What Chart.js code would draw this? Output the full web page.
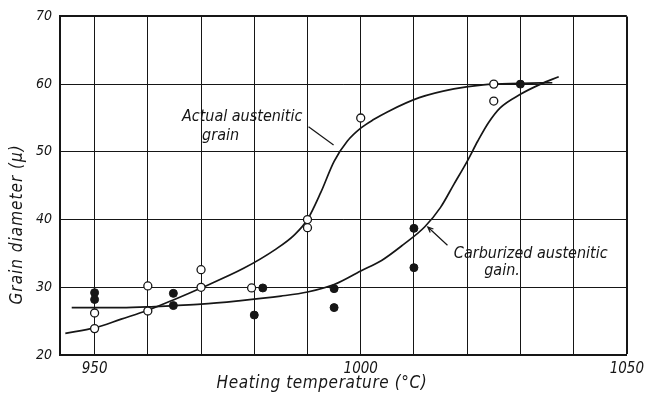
<!DOCTYPE html>
<html>
<head>
<meta charset="utf-8">
<script src="https://cdn.jsdelivr.net/npm/chart.js@4.4.0/dist/chart.umd.min.js"></script>
<style>
  html, body { margin: 0; padding: 0; background: #fff; }
</style>
</head>
<body>
<canvas id="grainChart" width="649" height="398"></canvas>
<script>
/*  data
-------------------------------------------------------*/
var xTicks = [950, 960, 970, 980, 990, 1000, 1010, 1020, 1030, 1040, 1050];
var yTicks = [20, 30, 40, 50, 60, 70];

// open circles : actual austenitic grain
var actualTemp = [950, 950, 960, 960, 970, 970, 979.5, 990, 990, 1000, 1025, 1025];
var actualDia  = [26.2, 23.9, 30.2, 26.5, 32.6, 30.0, 29.9, 40.0, 38.8, 55.0, 60.0, 57.5];

// filled circles : carburized austenitic grain
var carbTemp = [950, 950, 964.8, 964.8, 980, 981.6, 995, 995, 1010, 1010, 1030];
var carbDia  = [29.2, 28.2, 29.1, 27.3, 25.9, 29.9, 29.8, 27.0, 38.7, 32.9, 60.0];

// drawn curves
var actualCurveTemp = [944.5, 950, 955, 960, 965, 970, 978, 984, 987.5, 990, 992.5, 995, 997.5, 1000, 1002.5, 1005, 1011, 1017.5, 1023, 1030, 1036];
var actualCurveDia  = [23.2, 24.0, 25.3, 26.6, 28.2, 29.9, 32.8, 35.6, 37.7, 40.0, 44.0, 48.6, 51.6, 53.5, 54.8, 55.9, 58.0, 59.3, 59.9, 60.1, 60.2];

var carbCurveTemp = [945.7, 955, 960, 965, 970, 977, 985, 990, 995, 1000, 1004, 1008, 1012, 1015, 1017.5, 1020, 1022, 1024, 1026.2, 1030, 1033.8, 1037.2];
var carbCurveDia  = [27.0, 27.0, 27.1, 27.3, 27.5, 28.0, 28.7, 29.3, 30.4, 32.4, 34.0, 36.3, 38.9, 41.8, 45.2, 48.6, 51.6, 54.3, 56.5, 58.5, 60.0, 61.1];

var labelActual = ['Actual austenitic', 'grain'];
var labelCarb = ['Carburized austenitic', 'gain.'];
var titleX = 'Heating temperature (\u00B0C)';
var titleY = 'Grain diameter (\u03BC)';

var ink = '#161616';
var fam = "'DejaVu Sans Condensed', 'DejaVu Sans', sans-serif";

function toPoints(xs, ys) {
  return xs.map(function (x, i) { return { x: x, y: ys[i] }; });
}

/*  notes + axis titles
-------------------------------------------------------*/
var notesPlugin = {
  id: 'notes',
  afterDraw: function (chart) {
    var c = chart.ctx, a = chart.chartArea;
    var xs = chart.scales.x, ys = chart.scales.y;
    function px(v) { return xs.getPixelForValue(v); }
    function py(v) { return ys.getPixelForValue(v); }

    c.save();
    c.fillStyle = ink;
    c.strokeStyle = ink;
    c.textBaseline = 'middle';
    c.font = 'italic 16px ' + fam;
    c.fillText(labelActual[0], px(966.4), py(55.2));
    c.fillText(labelActual[1], px(970.2), py(52.4));
    c.fillText(labelCarb[0], px(1017.5), py(35.0));
    c.fillText(labelCarb[1], px(1023.2), py(32.4));

    c.lineWidth = 1.2;
    c.beginPath();
    c.moveTo(px(990.2), py(53.7));
    c.lineTo(px(994.9), py(51.0));
    c.stroke();

    var x0 = px(1016.3), y0 = py(36.2), x1 = px(1012.6), y1 = py(38.9);
    var ang = Math.atan2(y1 - y0, x1 - x0);
    c.beginPath();
    c.moveTo(x0, y0);
    c.lineTo(x1, y1);
    c.moveTo(x1 - 6 * Math.cos(ang - 0.4), y1 - 6 * Math.sin(ang - 0.4));
    c.lineTo(x1, y1);
    c.lineTo(x1 - 6 * Math.cos(ang + 0.4), y1 - 6 * Math.sin(ang + 0.4));
    c.stroke();

    c.font = 'italic 17px ' + fam;
    c.letterSpacing = '0.6px';
    c.textAlign = 'center';
    c.fillText(titleX, a.left + 262, a.bottom + 29);
    c.letterSpacing = '1px';
    c.translate(18, a.top + 208);
    c.rotate(-Math.PI / 2);
    c.fillText(titleY, 0, 0);
    c.restore();
  }
};

/*  chart
-------------------------------------------------------*/
var ctx = document.getElementById('grainChart');
var grainChart = new Chart(ctx, {
  type: 'scatter',
  data: {
    datasets: [{
        label: 'Actual austenitic grain',
        data: toPoints(actualTemp, actualDia),
        pointRadius: 4,
        pointBackgroundColor: '#fff',
        pointBorderColor: ink,
        pointBorderWidth: 1.3
      }, {
        label: 'Carburized austenitic grain',
        data: toPoints(carbTemp, carbDia),
        pointRadius: 4,
        pointBackgroundColor: ink,
        pointBorderColor: ink,
        pointBorderWidth: 1
      }, {
        label: 'Actual curve',
        data: toPoints(actualCurveTemp, actualCurveDia),
        showLine: true,
        borderColor: ink,
        borderWidth: 1.7,
        pointRadius: 0,
        cubicInterpolationMode: 'monotone'
      }, {
        label: 'Carburized curve',
        data: toPoints(carbCurveTemp, carbCurveDia),
        showLine: true,
        borderColor: ink,
        borderWidth: 1.7,
        pointRadius: 0,
        cubicInterpolationMode: 'monotone'
      }
    ]
  },
  options: {
    responsive: false,
    animation: false,
    layout: { padding: { left: 0, top: 11, right: 22, bottom: 0 } },
    plugins: {
      legend: { display: false },
      tooltip: { enabled: false }
    },
    scales: {
      x: {
        type: 'linear',
        min: 943.5,
        max: 1050,
        afterBuildTicks: function (scale) {
          scale.ticks = xTicks.map(function (v) { return { value: v }; });
        },
        afterFit: function (scale) { scale.height = 43; },
        ticks: {
          autoSkip: false,
          maxRotation: 0,
          padding: 5,
          color: ink,
          font: { family: fam, size: 15, style: 'italic' },
          callback: function (v) { return v % 50 === 0 ? String(v) : ''; }
        },
        grid: {
          color: ink,
          drawTicks: false,
          lineWidth: function (c) { return c.tick && c.tick.value === 1050 ? 2 : 1; }
        },
        border: { display: true, color: ink, width: 2 }
      },
      y: {
        min: 20,
        max: 70,
        afterBuildTicks: function (scale) {
          scale.ticks = yTicks.map(function (v) { return { value: v }; });
        },
        afterFit: function (scale) { scale.width = 60; },
        ticks: {
          padding: 8,
          color: ink,
          font: { family: fam, size: 14, style: 'italic' }
        },
        grid: {
          color: ink,
          drawTicks: false,
          lineWidth: function (c) { return c.tick && c.tick.value === 70 ? 2 : 1; }
        },
        border: { display: true, color: ink, width: 2 }
      }
    }
  },
  plugins: [notesPlugin]
});
</script>
</body>
</html>
